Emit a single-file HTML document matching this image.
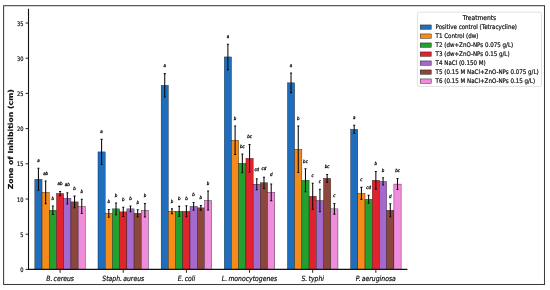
<!DOCTYPE html>
<html lang="en">
<head>
<meta charset="utf-8">
<title>Zone of inhibition chart</title>
<style>
html,body{margin:0;padding:0;background:#fff;}
body{width:550px;height:290px;overflow:hidden;}
svg{display:block;will-change:transform;font-family:"DejaVu Sans", "Liberation Sans", sans-serif;}
</style>
</head>
<body>
<svg width="550" height="290" viewBox="0 0 550 290">
<rect x="0" y="0" width="550" height="290" fill="#fff"/>
<rect x="3.6" y="5.7" width="540.9" height="278.8" fill="#fff" stroke="#3c3c3c" stroke-width="1.05"/>
<g stroke="#111" stroke-width="0.36">
<rect x="34.83" y="179.29" width="7.22" height="90.11" fill="#1f6ebe"/>
<rect x="42.05" y="192.31" width="7.22" height="77.09" fill="#f58c19"/>
<rect x="49.27" y="210.26" width="7.22" height="59.14" fill="#23a02d"/>
<rect x="56.49" y="193.51" width="7.22" height="75.89" fill="#e1232d"/>
<rect x="63.71" y="198.3" width="7.22" height="71.1" fill="#a569cd"/>
<rect x="70.93" y="201.89" width="7.22" height="67.51" fill="#8c463c"/>
<rect x="78.15" y="206.39" width="7.22" height="63.01" fill="#f08cdc"/>
<rect x="97.98" y="151.9" width="7.22" height="117.5" fill="#1f6ebe"/>
<rect x="105.2" y="213.29" width="7.22" height="56.11" fill="#f58c19"/>
<rect x="112.42" y="208.86" width="7.22" height="60.54" fill="#23a02d"/>
<rect x="119.64" y="211.88" width="7.22" height="57.52" fill="#e1232d"/>
<rect x="126.86" y="208.86" width="7.22" height="60.54" fill="#a569cd"/>
<rect x="134.08" y="213.29" width="7.22" height="56.11" fill="#8c463c"/>
<rect x="141.3" y="210.26" width="7.22" height="59.14" fill="#f08cdc"/>
<rect x="161.13" y="85.3" width="7.22" height="184.1" fill="#1f6ebe"/>
<rect x="168.35" y="211.32" width="7.22" height="58.08" fill="#f58c19"/>
<rect x="175.57" y="211.32" width="7.22" height="58.08" fill="#23a02d"/>
<rect x="182.79" y="211.32" width="7.22" height="58.08" fill="#e1232d"/>
<rect x="190.01" y="206.39" width="7.22" height="63.01" fill="#a569cd"/>
<rect x="197.23" y="207.87" width="7.22" height="61.53" fill="#8c463c"/>
<rect x="204.45" y="200.48" width="7.22" height="68.92" fill="#f08cdc"/>
<rect x="224.28" y="56.93" width="7.22" height="212.47" fill="#1f6ebe"/>
<rect x="231.5" y="140.29" width="7.22" height="129.11" fill="#f58c19"/>
<rect x="238.72" y="163.31" width="7.22" height="106.09" fill="#23a02d"/>
<rect x="245.94" y="158.31" width="7.22" height="111.09" fill="#e1232d"/>
<rect x="253.16" y="184.22" width="7.22" height="85.18" fill="#a569cd"/>
<rect x="260.38" y="182.81" width="7.22" height="86.59" fill="#8c463c"/>
<rect x="267.6" y="192.31" width="7.22" height="77.09" fill="#f08cdc"/>
<rect x="287.43" y="82.84" width="7.22" height="186.56" fill="#1f6ebe"/>
<rect x="294.65" y="149.23" width="7.22" height="120.17" fill="#f58c19"/>
<rect x="301.87" y="180.27" width="7.22" height="89.13" fill="#23a02d"/>
<rect x="309.09" y="196.32" width="7.22" height="73.08" fill="#e1232d"/>
<rect x="316.31" y="200.48" width="7.22" height="68.92" fill="#a569cd"/>
<rect x="323.53" y="178.3" width="7.22" height="91.1" fill="#8c463c"/>
<rect x="330.75" y="208.86" width="7.22" height="60.54" fill="#f08cdc"/>
<rect x="350.58" y="129.3" width="7.22" height="140.1" fill="#1f6ebe"/>
<rect x="357.8" y="193.37" width="7.22" height="76.03" fill="#f58c19"/>
<rect x="365.02" y="199.28" width="7.22" height="70.12" fill="#23a02d"/>
<rect x="372.24" y="180.27" width="7.22" height="89.13" fill="#e1232d"/>
<rect x="379.46" y="181.4" width="7.22" height="88" fill="#a569cd"/>
<rect x="386.68" y="210.26" width="7.22" height="59.14" fill="#8c463c"/>
<rect x="393.9" y="184.08" width="7.22" height="85.32" fill="#f08cdc"/>
</g>
<g stroke="#0a0a0a" stroke-width="1.05" fill="none">
<path d="M38.44 168.31V190.27M37.44 168.31h2M37.44 190.27h2"/>
<path d="M45.66 180.91V203.72M44.66 180.91h2M44.66 203.72h2"/>
<path d="M52.88 206.04V214.49M51.88 206.04h2M51.88 214.49h2"/>
<path d="M60.1 191.4V195.62M59.1 191.4h2M59.1 195.62h2"/>
<path d="M67.32 192.66V203.93M66.32 192.66h2M66.32 203.93h2"/>
<path d="M74.54 196.11V207.66M73.54 196.11h2M73.54 207.66h2"/>
<path d="M81.76 199.21V213.57M80.76 199.21h2M80.76 213.57h2"/>
<path d="M101.59 139.37V164.43M100.59 139.37h2M100.59 164.43h2"/>
<path d="M108.81 209.42V217.16M107.81 209.42h2M107.81 217.16h2"/>
<path d="M116.03 203.01V214.7M115.03 203.01h2M115.03 214.7h2"/>
<path d="M123.25 207.24V216.53M122.25 207.24h2M122.25 216.53h2"/>
<path d="M130.47 206.04V211.67M129.47 206.04h2M129.47 211.67h2"/>
<path d="M137.69 209.77V216.81M136.69 209.77h2M136.69 216.81h2"/>
<path d="M144.91 203.44V217.09M143.91 203.44h2M143.91 217.09h2"/>
<path d="M164.74 73.62V96.99M163.74 73.62h2M163.74 96.99h2"/>
<path d="M171.96 208.86V213.78M170.96 208.86h2M170.96 213.78h2"/>
<path d="M179.18 206.39V216.25M178.18 206.39h2M178.18 216.25h2"/>
<path d="M186.4 205.83V216.81M185.4 205.83h2M185.4 216.81h2"/>
<path d="M193.62 202.52V210.26M192.62 202.52h2M192.62 210.26h2"/>
<path d="M200.84 205.62V210.12M199.84 205.62h2M199.84 210.12h2"/>
<path d="M208.06 190.97V209.98M207.06 190.97h2M207.06 209.98h2"/>
<path d="M227.89 44.26V69.6M226.89 44.26h2M226.89 69.6h2"/>
<path d="M235.11 126V154.58M234.11 126h2M234.11 154.58h2"/>
<path d="M242.33 153.94V172.67M241.33 153.94h2M241.33 172.67h2"/>
<path d="M249.55 144.58V172.04M248.55 144.58h2M248.55 172.04h2"/>
<path d="M256.77 178.72V189.71M255.77 178.72h2M255.77 189.71h2"/>
<path d="M263.99 177.18V188.44M262.99 177.18h2M262.99 188.44h2"/>
<path d="M271.21 184V200.62M270.21 184h2M270.21 200.62h2"/>
<path d="M291.04 73.05V92.63M290.04 73.05h2M290.04 92.63h2"/>
<path d="M298.26 126V172.46M297.26 126h2M297.26 172.46h2"/>
<path d="M305.48 168.8V191.75M304.48 168.8h2M304.48 191.75h2"/>
<path d="M312.7 183.3V209.35M311.7 183.3h2M311.7 209.35h2"/>
<path d="M319.92 189.21V211.74M318.92 189.21h2M318.92 211.74h2"/>
<path d="M327.14 174.5V182.1M326.14 174.5h2M326.14 182.1h2"/>
<path d="M334.36 203.58V214.14M333.36 203.58h2M333.36 214.14h2"/>
<path d="M354.19 125.29V133.32M353.19 125.29h2M353.19 133.32h2"/>
<path d="M361.41 187.38V199.35M360.41 187.38h2M360.41 199.35h2"/>
<path d="M368.63 195.27V203.29M367.63 195.27h2M367.63 203.29h2"/>
<path d="M375.85 171.4V189.14M374.85 171.4h2M374.85 189.14h2"/>
<path d="M383.07 177.74V185.06M382.07 177.74h2M382.07 185.06h2"/>
<path d="M390.29 203.79V216.74M389.29 203.79h2M389.29 216.74h2"/>
<path d="M397.51 178.58V189.57M396.51 178.58h2M396.51 189.57h2"/>
</g>
<g>
<text transform="translate(38.44,162.11) scale(0.89,1)" font-size="4.5" text-anchor="middle" font-style="italic" fill="#000" stroke="#000" stroke-width="0.26">a</text>
<text transform="translate(45.66,174.71) scale(0.89,1)" font-size="4.5" text-anchor="middle" font-style="italic" fill="#000" stroke="#000" stroke-width="0.26">ab</text>
<text transform="translate(52.88,199.84) scale(0.89,1)" font-size="4.5" text-anchor="middle" font-style="italic" fill="#000" stroke="#000" stroke-width="0.26">b</text>
<text transform="translate(60.1,185.2) scale(0.89,1)" font-size="4.5" text-anchor="middle" font-style="italic" fill="#000" stroke="#000" stroke-width="0.26">ab</text>
<text transform="translate(67.32,186.46) scale(0.89,1)" font-size="4.5" text-anchor="middle" font-style="italic" fill="#000" stroke="#000" stroke-width="0.26">ab</text>
<text transform="translate(74.54,189.91) scale(0.89,1)" font-size="4.5" text-anchor="middle" font-style="italic" fill="#000" stroke="#000" stroke-width="0.26">b</text>
<text transform="translate(81.76,193.01) scale(0.89,1)" font-size="4.5" text-anchor="middle" font-style="italic" fill="#000" stroke="#000" stroke-width="0.26">b</text>
<text transform="translate(101.59,133.17) scale(0.89,1)" font-size="4.5" text-anchor="middle" font-style="italic" fill="#000" stroke="#000" stroke-width="0.26">a</text>
<text transform="translate(108.81,203.22) scale(0.89,1)" font-size="4.5" text-anchor="middle" font-style="italic" fill="#000" stroke="#000" stroke-width="0.26">b</text>
<text transform="translate(116.03,196.81) scale(0.89,1)" font-size="4.5" text-anchor="middle" font-style="italic" fill="#000" stroke="#000" stroke-width="0.26">b</text>
<text transform="translate(123.25,201.04) scale(0.89,1)" font-size="4.5" text-anchor="middle" font-style="italic" fill="#000" stroke="#000" stroke-width="0.26">b</text>
<text transform="translate(130.47,199.84) scale(0.89,1)" font-size="4.5" text-anchor="middle" font-style="italic" fill="#000" stroke="#000" stroke-width="0.26">b</text>
<text transform="translate(137.69,203.57) scale(0.89,1)" font-size="4.5" text-anchor="middle" font-style="italic" fill="#000" stroke="#000" stroke-width="0.26">b</text>
<text transform="translate(144.91,197.24) scale(0.89,1)" font-size="4.5" text-anchor="middle" font-style="italic" fill="#000" stroke="#000" stroke-width="0.26">b</text>
<text transform="translate(164.74,67.42) scale(0.89,1)" font-size="4.5" text-anchor="middle" font-style="italic" fill="#000" stroke="#000" stroke-width="0.26">a</text>
<text transform="translate(171.96,202.66) scale(0.89,1)" font-size="4.5" text-anchor="middle" font-style="italic" fill="#000" stroke="#000" stroke-width="0.26">b</text>
<text transform="translate(179.18,200.19) scale(0.89,1)" font-size="4.5" text-anchor="middle" font-style="italic" fill="#000" stroke="#000" stroke-width="0.26">b</text>
<text transform="translate(186.4,199.63) scale(0.89,1)" font-size="4.5" text-anchor="middle" font-style="italic" fill="#000" stroke="#000" stroke-width="0.26">b</text>
<text transform="translate(193.62,196.32) scale(0.89,1)" font-size="4.5" text-anchor="middle" font-style="italic" fill="#000" stroke="#000" stroke-width="0.26">b</text>
<text transform="translate(200.84,199.42) scale(0.89,1)" font-size="4.5" text-anchor="middle" font-style="italic" fill="#000" stroke="#000" stroke-width="0.26">b</text>
<text transform="translate(208.06,184.77) scale(0.89,1)" font-size="4.5" text-anchor="middle" font-style="italic" fill="#000" stroke="#000" stroke-width="0.26">b</text>
<text transform="translate(227.89,38.06) scale(0.89,1)" font-size="4.5" text-anchor="middle" font-style="italic" fill="#000" stroke="#000" stroke-width="0.26">a</text>
<text transform="translate(235.11,119.8) scale(0.89,1)" font-size="4.5" text-anchor="middle" font-style="italic" fill="#000" stroke="#000" stroke-width="0.26">b</text>
<text transform="translate(242.33,147.74) scale(0.89,1)" font-size="4.5" text-anchor="middle" font-style="italic" fill="#000" stroke="#000" stroke-width="0.26">bc</text>
<text transform="translate(249.55,138.38) scale(0.89,1)" font-size="4.5" text-anchor="middle" font-style="italic" fill="#000" stroke="#000" stroke-width="0.26">bc</text>
<text transform="translate(256.77,171.02) scale(0.89,1)" font-size="4.5" text-anchor="middle" font-style="italic" fill="#000" stroke="#000" stroke-width="0.26">cd</text>
<text transform="translate(263.99,170.38) scale(0.89,1)" font-size="4.5" text-anchor="middle" font-style="italic" fill="#000" stroke="#000" stroke-width="0.26">cd</text>
<text transform="translate(271.21,175.9) scale(0.89,1)" font-size="4.5" text-anchor="middle" font-style="italic" fill="#000" stroke="#000" stroke-width="0.26">d</text>
<text transform="translate(291.04,66.85) scale(0.89,1)" font-size="4.5" text-anchor="middle" font-style="italic" fill="#000" stroke="#000" stroke-width="0.26">a</text>
<text transform="translate(298.26,119.8) scale(0.89,1)" font-size="4.5" text-anchor="middle" font-style="italic" fill="#000" stroke="#000" stroke-width="0.26">b</text>
<text transform="translate(305.48,162.6) scale(0.89,1)" font-size="4.5" text-anchor="middle" font-style="italic" fill="#000" stroke="#000" stroke-width="0.26">bc</text>
<text transform="translate(312.7,177.1) scale(0.89,1)" font-size="4.5" text-anchor="middle" font-style="italic" fill="#000" stroke="#000" stroke-width="0.26">c</text>
<text transform="translate(319.92,183.01) scale(0.89,1)" font-size="4.5" text-anchor="middle" font-style="italic" fill="#000" stroke="#000" stroke-width="0.26">c</text>
<text transform="translate(327.14,168.3) scale(0.89,1)" font-size="4.5" text-anchor="middle" font-style="italic" fill="#000" stroke="#000" stroke-width="0.26">bc</text>
<text transform="translate(334.36,197.38) scale(0.89,1)" font-size="4.5" text-anchor="middle" font-style="italic" fill="#000" stroke="#000" stroke-width="0.26">c</text>
<text transform="translate(354.19,119.09) scale(0.89,1)" font-size="4.5" text-anchor="middle" font-style="italic" fill="#000" stroke="#000" stroke-width="0.26">a</text>
<text transform="translate(361.41,181.18) scale(0.89,1)" font-size="4.5" text-anchor="middle" font-style="italic" fill="#000" stroke="#000" stroke-width="0.26">c</text>
<text transform="translate(368.63,189.07) scale(0.89,1)" font-size="4.5" text-anchor="middle" font-style="italic" fill="#000" stroke="#000" stroke-width="0.26">cd</text>
<text transform="translate(375.85,165.2) scale(0.89,1)" font-size="4.5" text-anchor="middle" font-style="italic" fill="#000" stroke="#000" stroke-width="0.26">b</text>
<text transform="translate(383.07,171.54) scale(0.89,1)" font-size="4.5" text-anchor="middle" font-style="italic" fill="#000" stroke="#000" stroke-width="0.26">b</text>
<text transform="translate(390.29,197.59) scale(0.89,1)" font-size="4.5" text-anchor="middle" font-style="italic" fill="#000" stroke="#000" stroke-width="0.26">d</text>
<text transform="translate(397.51,172.38) scale(0.89,1)" font-size="4.5" text-anchor="middle" font-style="italic" fill="#000" stroke="#000" stroke-width="0.26">bc</text>
</g>
<path d="M28.5 8.7V269.9M28 269.4H407.4" stroke="#111" stroke-width="1.1" fill="none"/>
<g stroke="#111" stroke-width="0.9">
<path d="M25.6 269.4H28.5"/>
<path d="M25.6 234.2H28.5"/>
<path d="M25.6 199H28.5"/>
<path d="M25.6 163.8H28.5"/>
<path d="M25.6 128.6H28.5"/>
<path d="M25.6 93.4H28.5"/>
<path d="M25.6 58.2H28.5"/>
<path d="M25.6 23H28.5"/>
<path d="M60.1 269.4V272.8"/>
<path d="M123.25 269.4V272.8"/>
<path d="M186.4 269.4V272.8"/>
<path d="M249.55 269.4V272.8"/>
<path d="M312.7 269.4V272.8"/>
<path d="M375.85 269.4V272.8"/>
</g>
<text transform="translate(23.6,272) scale(0.825,1)" font-size="6.2" text-anchor="end" fill="#111" stroke="#111" stroke-width="0.22">0</text>
<text transform="translate(23.6,236.8) scale(0.825,1)" font-size="6.2" text-anchor="end" fill="#111" stroke="#111" stroke-width="0.22">5</text>
<text transform="translate(23.6,201.6) scale(0.825,1)" font-size="6.2" text-anchor="end" fill="#111" stroke="#111" stroke-width="0.22">10</text>
<text transform="translate(23.6,166.4) scale(0.825,1)" font-size="6.2" text-anchor="end" fill="#111" stroke="#111" stroke-width="0.22">15</text>
<text transform="translate(23.6,131.2) scale(0.825,1)" font-size="6.2" text-anchor="end" fill="#111" stroke="#111" stroke-width="0.22">20</text>
<text transform="translate(23.6,96) scale(0.825,1)" font-size="6.2" text-anchor="end" fill="#111" stroke="#111" stroke-width="0.22">25</text>
<text transform="translate(23.6,60.8) scale(0.825,1)" font-size="6.2" text-anchor="end" fill="#111" stroke="#111" stroke-width="0.22">30</text>
<text transform="translate(23.6,25.6) scale(0.825,1)" font-size="6.2" text-anchor="end" fill="#111" stroke="#111" stroke-width="0.22">35</text>
<text transform="translate(60.1,280.8) scale(0.85,1)" font-size="7.2" text-anchor="middle" font-style="italic" fill="#111" stroke="#111" stroke-width="0.22">B.&#8201;cereus</text>
<text transform="translate(123.25,280.8) scale(0.85,1)" font-size="7.2" text-anchor="middle" font-style="italic" fill="#111" stroke="#111" stroke-width="0.22">Staph.&#8201;aureus</text>
<text transform="translate(186.4,280.8) scale(0.85,1)" font-size="7.2" text-anchor="middle" font-style="italic" fill="#111" stroke="#111" stroke-width="0.22">E.&#8201;coli</text>
<text transform="translate(249.55,280.8) scale(0.85,1)" font-size="7.2" text-anchor="middle" font-style="italic" fill="#111" stroke="#111" stroke-width="0.22">L.&#8201;monocytogenes</text>
<text transform="translate(312.7,280.8) scale(0.85,1)" font-size="7.2" text-anchor="middle" font-style="italic" fill="#111" stroke="#111" stroke-width="0.22">S.&#8201;typhi</text>
<text transform="translate(375.85,280.8) scale(0.85,1)" font-size="7.2" text-anchor="middle" font-style="italic" fill="#111" stroke="#111" stroke-width="0.22">P.&#8201;aeruginosa</text>
<text transform="translate(12.9,139.3) scale(0.89,1) rotate(-90)" font-size="7.76" font-weight="bold" text-anchor="middle" fill="#111" stroke="#111" stroke-width="0.2">Zone of Inhibition (cm)</text>
<rect x="417.4" y="12.2" width="124.1" height="74.2" rx="1.6" ry="1.6" fill="#fff" stroke="#d4d4d4" stroke-width="0.7"/>
<text transform="translate(479.45,19.9) scale(0.89,1)" font-size="6.7" text-anchor="middle" fill="#111" stroke="#111" stroke-width="0.22">Treatments</text>
<rect x="420.2" y="24.95" width="11" height="4.3" fill="#1f6ebe" stroke="#111" stroke-width="0.45"/>
<text transform="translate(435.6,29.4) scale(0.88,1)" font-size="6.3" text-anchor="start" fill="#111" stroke="#111" stroke-width="0.22">Positive control (Tetracycline)</text>
<rect x="420.2" y="33.95" width="11" height="4.3" fill="#f58c19" stroke="#111" stroke-width="0.45"/>
<text transform="translate(435.6,38.4) scale(0.88,1)" font-size="6.3" text-anchor="start" fill="#111" stroke="#111" stroke-width="0.22">T1 Control (dw)</text>
<rect x="420.2" y="42.95" width="11" height="4.3" fill="#23a02d" stroke="#111" stroke-width="0.45"/>
<text transform="translate(435.6,47.4) scale(0.88,1)" font-size="6.3" text-anchor="start" fill="#111" stroke="#111" stroke-width="0.22">T2 (dw+ZnO-NPs 0.075 g/L)</text>
<rect x="420.2" y="51.95" width="11" height="4.3" fill="#e1232d" stroke="#111" stroke-width="0.45"/>
<text transform="translate(435.6,56.4) scale(0.88,1)" font-size="6.3" text-anchor="start" fill="#111" stroke="#111" stroke-width="0.22">T3 (dw+ZnO-NPs 0.15 g/L)</text>
<rect x="420.2" y="60.95" width="11" height="4.3" fill="#a569cd" stroke="#111" stroke-width="0.45"/>
<text transform="translate(435.6,65.4) scale(0.88,1)" font-size="6.3" text-anchor="start" fill="#111" stroke="#111" stroke-width="0.22">T4 NaCl (0.150 M)</text>
<rect x="420.2" y="69.95" width="11" height="4.3" fill="#8c463c" stroke="#111" stroke-width="0.45"/>
<text transform="translate(435.6,74.4) scale(0.88,1)" font-size="6.3" text-anchor="start" fill="#111" stroke="#111" stroke-width="0.22">T5 (0.15 M NaCl+ZnO-NPs 0.075 g/L)</text>
<rect x="420.2" y="78.95" width="11" height="4.3" fill="#f08cdc" stroke="#111" stroke-width="0.45"/>
<text transform="translate(435.6,83.4) scale(0.88,1)" font-size="6.3" text-anchor="start" fill="#111" stroke="#111" stroke-width="0.22">T6 (0.15 M NaCl+ZnO-NPs 0.15 g/L)</text>
</svg>
</body>
</html>
